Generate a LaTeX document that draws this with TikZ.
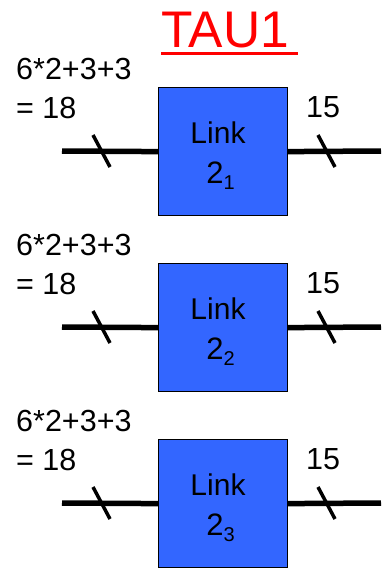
\documentclass[tikz,border=0pt]{standalone}
\usepackage{fontspec}
\setmainfont{Liberation Sans}
\definecolor{boxblue}{HTML}{3366FF}
\definecolor{titlered}{HTML}{FF0000}
\begin{document}
\begin{tikzpicture}[x=1pt,y=-1pt,
  linkbox/.style={draw=black,line width=1.2pt,fill=boxblue,minimum width=129pt,minimum height=128pt,inner sep=0pt,anchor=north west},
  wire/.style={line width=5.5pt},
  tick/.style={line width=3.5pt},
  lbl/.style={font=\fontsize{30.5}{34}\selectfont,anchor=base west,inner sep=0pt}]
\useasboundingbox (0,0) rectangle (381,568);
\node[anchor=base west,inner sep=0pt,text=titlered,font=\fontsize{51.5}{60}\selectfont] (title) at (161,47) {TAU1};
\draw[titlered,line width=3pt] (161,53.5) -- (298,53.5);
\foreach \i/\s in {0/1,1/2,2/3}{
  \begin{scope}[yshift=-\i*176pt]
  \node[linkbox] (b\i) at (158,87) {};
  \node[font=\fontsize{30}{34}\selectfont,anchor=base,inner sep=0pt] (t\i) at (218,143) {Link};
  \node[font=\fontsize{31}{34}\selectfont,anchor=base,inner sep=0pt] (n\i) at (220.5,183) {2\raisebox{-6pt}{\fontsize{20}{22}\selectfont\s}};
  \node[lbl] (eq\i) at (16,79) {6*2+3+3};
  \node[lbl] (r\i) at (16,118) {= 18};
  \node[lbl] (o\i) at (306,117) {15};
  \coordinate (l\i) at (62,151);
  \coordinate (e\i) at (381,151);
  \draw[wire] (l\i) -- (b\i.west);
  \draw[wire] (b\i.east) -- (e\i);
  \draw[tick] (93,135) -- (110,167);
  \draw[tick] (318,135) -- (335,167);
  \end{scope}
}
\end{tikzpicture}
\end{document}
